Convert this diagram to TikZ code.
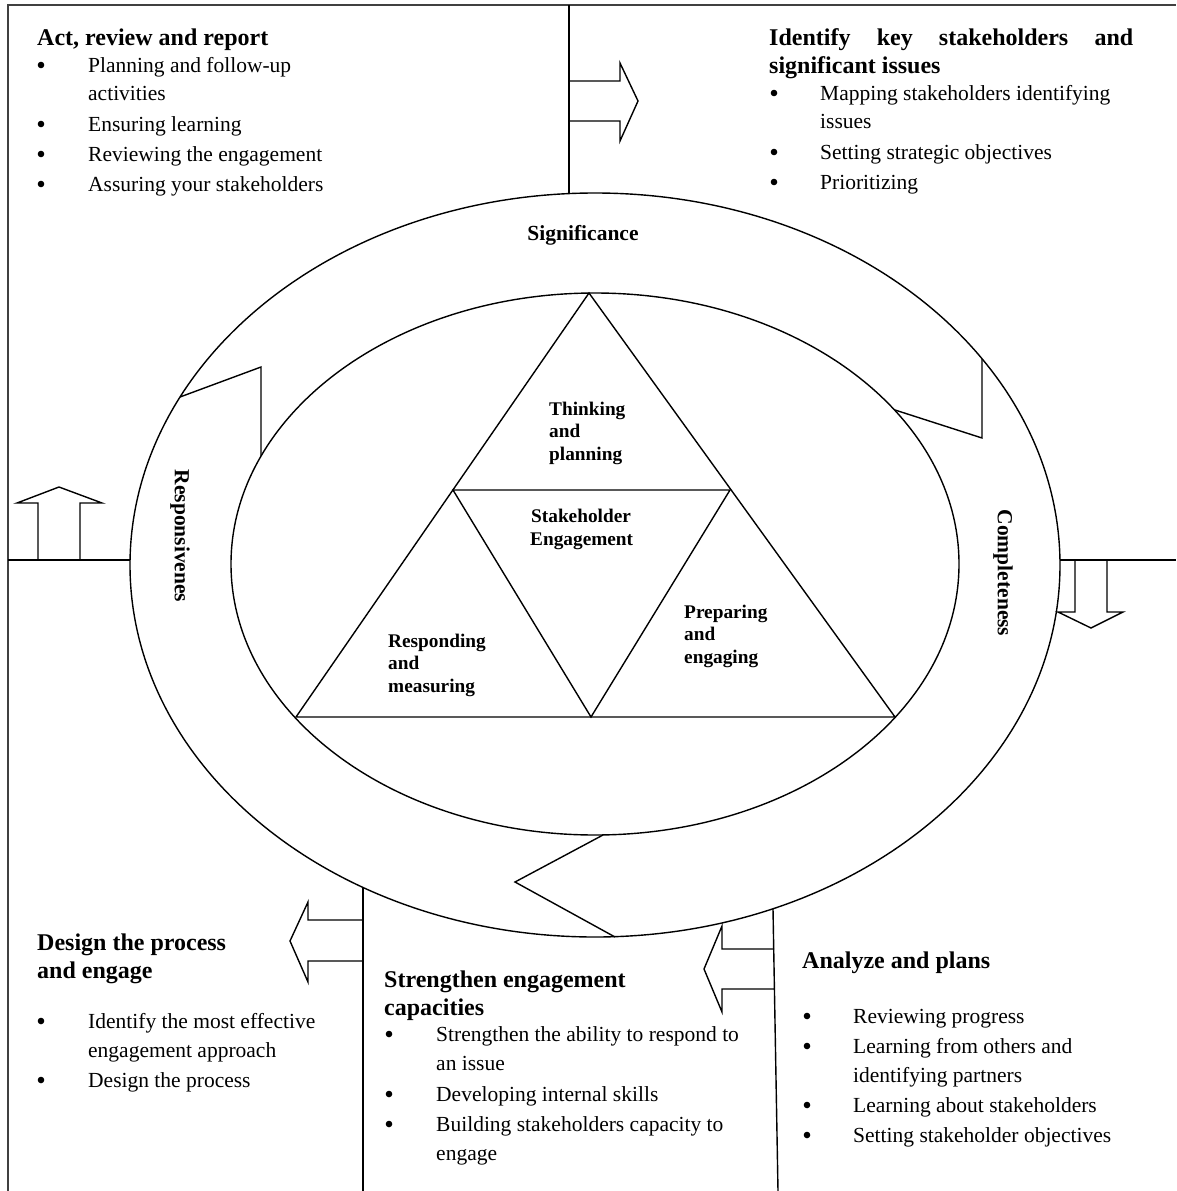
\documentclass[tikz,border=0pt]{standalone}
\usepackage{fontspec}
\setmainfont{Liberation Serif}
\begin{document}
\begin{tikzpicture}[x=1pt,y=-1pt,
  line/.style={line width=1.4pt, line join=miter},
  framel/.style={line width=2.2pt, draw=black!75},
  blockarrow/.style={line width=1.4pt, line join=miter},
  body/.style={anchor=base west, inner sep=0pt, font=\fontsize{21.5}{30}\selectfont},
  dot/.style={circle, fill=black, inner sep=0pt, minimum size=6.6pt},
  head/.style={anchor=base west, inner sep=0pt, font=\fontsize{24}{28}\selectfont\bfseries},
  lbl/.style={anchor=base west, inner sep=0pt, font=\fontsize{19.3}{22}\selectfont\bfseries},
  ringlbl/.style={inner sep=0pt, font=\fontsize{21.5}{26}\selectfont\bfseries},
]
\useasboundingbox (0,0) rectangle (1176,1191);

% outer frame (top and left edges)
\draw[framel] (8,1191) -- (8,5) -- (1176,5);

% quadrant dividers
\coordinate (ringtop) at (569,194);
\coordinate (ringleft) at (130,560);
\coordinate (ringright) at (1060,560);
\coordinate (ringbl) at (363,887);
\coordinate (ringbr) at (773,909);
\draw[line] (569,5) -- (ringtop);
\draw[line] (8,560) -- (ringleft);
\draw[line] (ringright) -- (1176,560);
\draw[line] (ringbl) -- (363,1191);
\draw[line] (ringbr) -- (778,1191);

% ring: outer and inner ellipses
\draw[line] (595,565) ellipse [x radius=465pt, y radius=372pt];
\draw[line] (595,564) ellipse [x radius=364pt, y radius=271pt];

% chevron cuts across the ring
\draw[line] (180,397) -- (261,367) -- (261,456);
\draw[line] (895,410) -- (982,438) -- (982,359);
\draw[line] (603,835) -- (515,882) -- (615,937);

% triangle of phases
\coordinate (apex) at (589,293);
\coordinate (bl) at (296,717);
\coordinate (br) at (895,717);
\coordinate (ml) at (453,490);
\coordinate (mr) at (730,490);
\coordinate (mb) at (591,717);
\draw[line] (apex) -- (bl) -- (br) -- cycle;
\draw[line] (ml) -- (mr) -- (mb) -- cycle;

% block arrows, open at the divider they stand on
\draw[blockarrow] (569,81) -- (620,81) -- (620,63) -- (638,101) -- (620,141) -- (620,121) -- (569,121);
\draw[blockarrow] (38,560) -- (38,503) -- (17,503) -- (59,487) -- (102,503) -- (80,503) -- (80,560);
\draw[blockarrow] (1075,560) -- (1075,612) -- (1058,612) -- (1091,628) -- (1123,612) -- (1107,612) -- (1107,560);
\draw[blockarrow] (363,920) -- (308,920) -- (308,902) -- (290,941) -- (308,982) -- (308,961) -- (363,961);
\draw[blockarrow] (774,949) -- (722,949) -- (722,926) -- (704,969) -- (722,1012) -- (722,989) -- (774,989);

% ring labels
\node[ringlbl, anchor=base] (sig) at (583,240) {Significance};
\node[ringlbl, rotate=-90] (resp) at (180,536) {Responsivenes};
\node[ringlbl, rotate=-90] (comp) at (1003,573) {Completeness};

% triangle labels
\node[lbl] (tp1) at (549,415) {Thinking};
\node[lbl] (tp2) at (549,437) {and};
\node[lbl] (tp3) at (549,460) {planning};
\node[lbl] (se1) at (531,522) {Stakeholder};
\node[lbl] (se2) at (530,545) {Engagement};
\node[lbl] (pe1) at (684,618) {Preparing};
\node[lbl] (pe2) at (684,640) {and};
\node[lbl] (pe3) at (684,663) {engaging};
\node[lbl] (rm1) at (388,647) {Responding};
\node[lbl] (rm2) at (388,669) {and};
\node[lbl] (rm3) at (388,692) {measuring};

% top left: act, review and report
\node[head] (arh) at (37,45) {Act, review and report};
\node[dot] (arb1) at (41,65) {};
\node[body] (ar1a) at (88,72) {Planning and follow-up};
\node[body] (ar1b) at (88,100) {activities};
\node[dot] (arb2) at (41,124) {};
\node[body] (ar2) at (88,131) {Ensuring learning};
\node[dot] (arb3) at (41,154) {};
\node[body] (ar3) at (88,161) {Reviewing the engagement};
\node[dot] (arb4) at (41,184) {};
\node[body] (ar4) at (88,191) {Assuring your stakeholders};

% top right: identify key stakeholders
\node[head] (idh1) at (769,45) {\makebox[364pt][s]{Identify key stakeholders and}};
\node[head] (idh2) at (769,73) {significant issues};
\node[dot] (idb1) at (774,93) {};
\node[body] (id1a) at (820,100) {Mapping stakeholders identifying};
\node[body] (id1b) at (820,128) {issues};
\node[dot] (idb2) at (774,152) {};
\node[body] (id2) at (820,159) {Setting strategic objectives};
\node[dot] (idb3) at (774,182) {};
\node[body] (id3) at (820,189) {Prioritizing};

% bottom left: design the process
\node[head] (dph1) at (37,950) {Design the process};
\node[head] (dph2) at (37,978) {and engage};
\node[dot] (dpb1) at (41,1021) {};
\node[body] (dp1a) at (88,1028) {Identify the most effective};
\node[body] (dp1b) at (88,1057) {engagement approach};
\node[dot] (dpb2) at (41,1080) {};
\node[body] (dp2) at (88,1087) {Design the process};

% bottom middle: strengthen engagement capacities
\node[head] (sch1) at (384,987) {Strengthen engagement};
\node[head] (sch2) at (384,1015) {capacities};
\node[dot] (scb1) at (389,1034) {};
\node[body] (sc1a) at (436,1041) {Strengthen the ability to respond to};
\node[body] (sc1b) at (436,1070) {an issue};
\node[dot] (scb2) at (389,1094) {};
\node[body] (sc2) at (436,1101) {Developing internal skills};
\node[dot] (scb3) at (389,1124) {};
\node[body] (sc3a) at (436,1131) {Building stakeholders capacity to};
\node[body] (sc3b) at (436,1160) {engage};

% bottom right: analyze and plans
\node[head] (aph) at (802,968) {Analyze and plans};
\node[dot] (apb1) at (807,1016) {};
\node[body] (ap1) at (853,1023) {Reviewing progress};
\node[dot] (apb2) at (807,1046) {};
\node[body] (ap2a) at (853,1053) {Learning from others and};
\node[body] (ap2b) at (853,1082) {identifying partners};
\node[dot] (apb3) at (807,1105) {};
\node[body] (ap3) at (853,1112) {Learning about stakeholders};
\node[dot] (apb4) at (807,1135) {};
\node[body] (ap4) at (853,1142) {Setting stakeholder objectives};
\end{tikzpicture}
\end{document}
